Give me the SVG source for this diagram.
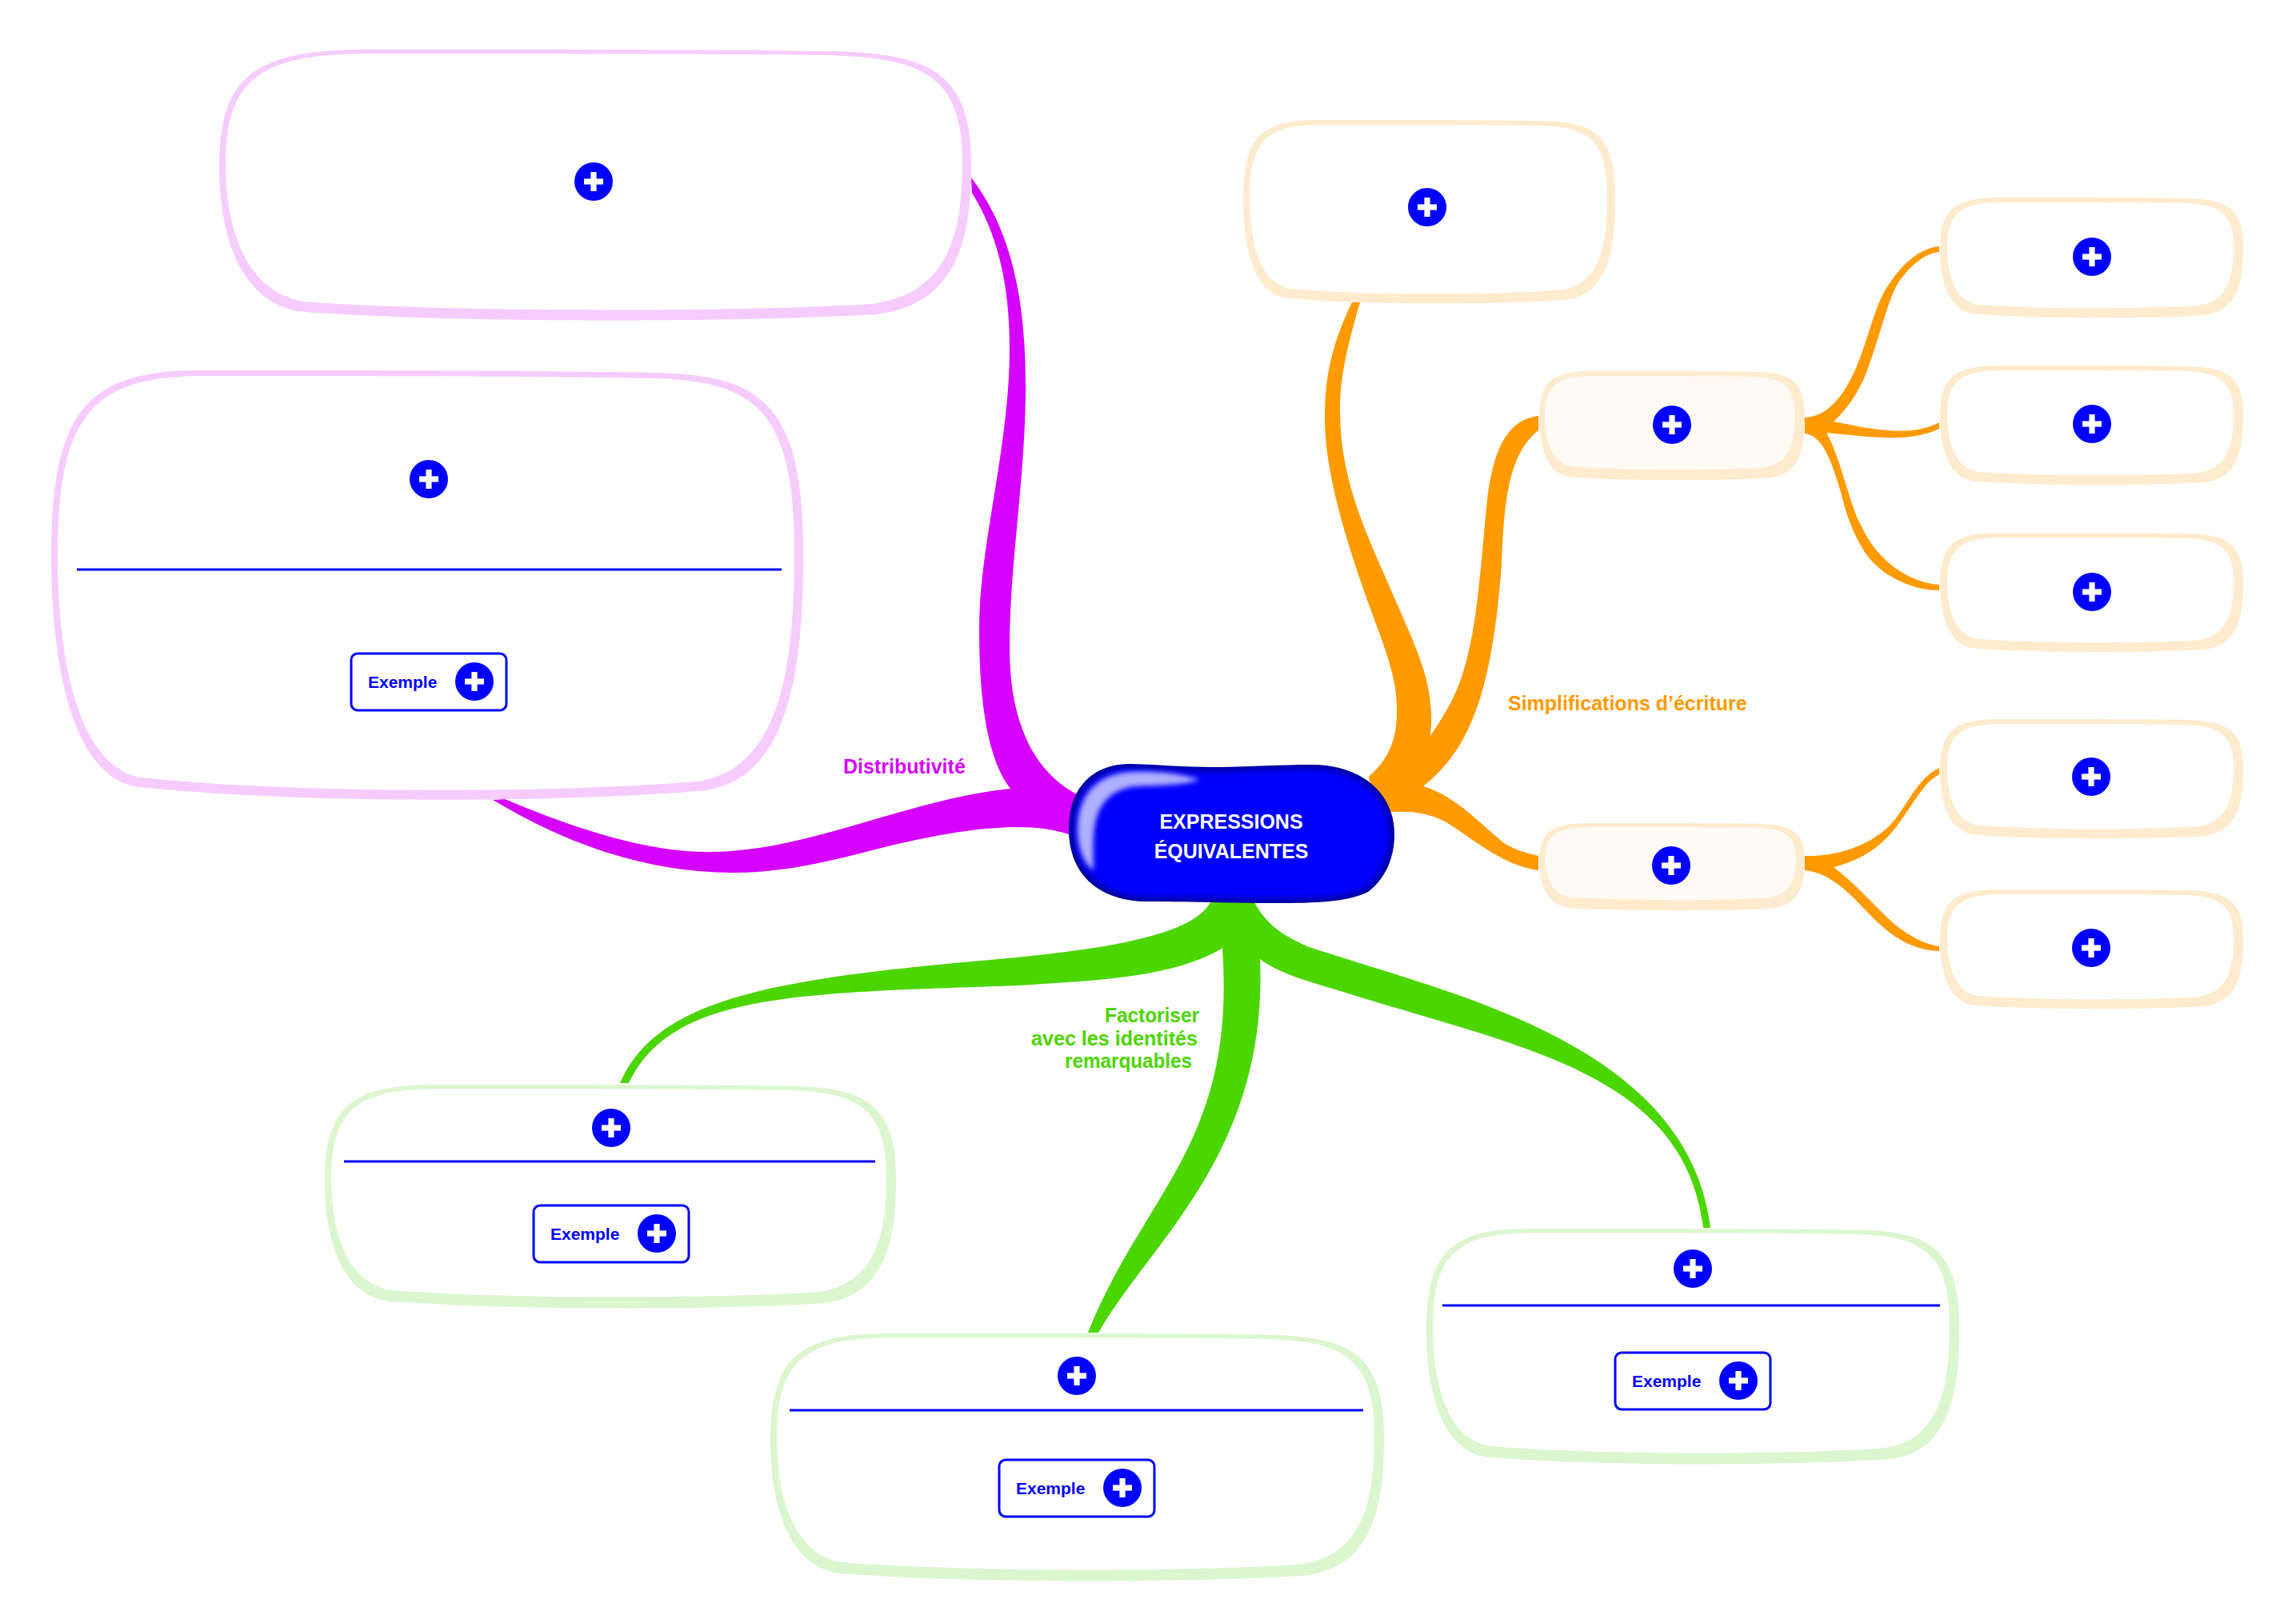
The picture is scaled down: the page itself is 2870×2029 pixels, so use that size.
<svg xmlns="http://www.w3.org/2000/svg" width="2870" height="2029" viewBox="0 0 2870 2029">
<style>
.pk{fill:#f6ccff}.or{fill:#ffebcd}.gr{fill:#dcf6cf}.wh{fill:#fff}.cr{fill:#fffaf3}
.sep{stroke:#00f;stroke-width:3;fill:none}
.lb{font-family:"Liberation Sans",Arial,sans-serif;font-weight:700;font-size:25px}
.ex{font-family:"Liberation Sans",Arial,sans-serif;font-weight:700;font-size:21px;fill:#00f}
.ti{font-family:"Liberation Sans",Arial,sans-serif;font-weight:700;font-size:25px;fill:#fff;text-anchor:middle}
</style>
<defs>
<path id="u" d="M.198,0C.43,0 .66,0 .81,.006C.95,.012 1,.09 1,.43C1,.73 .975,.95 .87,.98C.67,1.01 .31,1.01 .11,.97C.03,.94 0,.7 0,.43C0,.09 .05,0 .198,0Z"/>
<g id="plus"><circle r="24" fill="#00f"/><rect x="-12" y="-3.6" width="24" height="7.2" fill="#fff"/><rect x="-3.6" y="-12" width="7.2" height="24" fill="#fff"/></g>
<g id="exemple"><rect x="0" y="0" width="194" height="71" rx="8" fill="#fff" stroke="#00f" stroke-width="3"/><text class="ex" x="21" y="43">Exemple</text><use href="#plus" x="154" y="35"/></g>
<path id="cp" d="M1413,955C1450,956 1480,959 1513,959C1560,959 1600,956 1640,956C1700,956 1743,990 1743,1043C1743,1075 1730,1100 1710,1115C1685,1128 1640,1129 1597,1129C1540,1129 1490,1127 1430,1127C1370,1125 1336,1090 1336,1037C1336,985 1365,955 1413,955Z"/>
<clipPath id="cc"><use href="#cp"/></clipPath>
<filter id="b3" x="-10%" y="-10%" width="120%" height="120%"><feGaussianBlur stdDeviation="5"/></filter>
<filter id="b2" x="-10%" y="-10%" width="120%" height="120%"><feGaussianBlur stdDeviation="3"/></filter>
</defs>
<rect width="2870" height="2029" fill="#fff"/>
<g id="connectors">
<g fill="#d500ff">
<path d="M1214,222C1250,270 1282,340 1282,482C1282,600 1262,700 1262,810C1262,900 1290,965 1350,995L1340,1040L1263,1000L1263,986C1235,950 1224,880 1224,787C1224,680 1262,560 1262,435C1262,350 1245,290 1215,241Z"/>
<path d="M631,999C740,1045 820,1065 886,1065C1010,1065 1130,1000 1263,986L1350,995L1336,1043C1290,1028 1220,1030 1090,1063C1040,1076 980,1091 917,1091C800,1091 700,1050 616,1000Z"/>
</g>
<g fill="#ff9a00">
<path d="M1690,378C1665,430 1656,470 1656,523C1656,600 1690,700 1727,799C1745,850 1746,870 1746,891C1746,925 1735,950 1711,971L1760,1010L1788,920C1795,860 1770,810 1752,768C1715,680 1675,610 1675,513C1675,470 1685,430 1700,378Z"/>
<path d="M1923,520C1880,525 1866,570 1859,625C1852,690 1848,780 1829,840C1820,870 1805,895 1788,920L1711,971L1720,1020L1779,983C1840,935 1865,860 1877,707C1880,640 1882,570 1923,538Z"/>
<path d="M1779,983C1820,995 1850,1030 1880,1054C1895,1063 1910,1067 1923,1070L1923,1088C1880,1082 1850,1055 1808,1028C1785,1015 1760,1014 1739,1015L1700,1000Z"/>
<path d="M2256,522C2290,520 2310,485 2322,455C2335,425 2345,375 2363,353C2378,330 2400,310 2424,308L2424,315C2405,317 2388,332 2373,353C2358,378 2348,430 2330,473C2320,495 2308,512 2292,527C2320,532 2385,550 2424,528L2424,536C2385,555 2330,545 2283,541C2300,570 2315,640 2326,656C2345,700 2385,728 2424,731L2424,738C2385,738 2345,715 2329,687C2310,655 2305,630 2300,612C2290,580 2280,545 2256,542Z"/>
<path d="M2256,1070C2300,1071 2345,1055 2370,1023C2390,995 2400,972 2424,960L2424,968C2405,978 2395,1000 2373,1030C2355,1055 2330,1075 2292,1084C2320,1105 2345,1135 2370,1157C2390,1172 2405,1180 2424,1183L2424,1189C2395,1188 2370,1175 2347,1153C2320,1127 2295,1092 2256,1088Z"/>
</g>
<g fill="#4cd600">
<path d="M775,1354C820,1250 960,1225 1225,1201C1380,1188 1490,1170 1513,1128L1570,1128L1527,1186C1470,1220 1380,1226 1273,1232C1000,1242 840,1240 786,1354Z"/>
<path d="M1360,1666C1430,1490 1545,1430 1528,1186L1540,1120L1575,1199C1585,1440 1440,1550 1373,1666Z"/>
<path d="M1568,1128C1585,1160 1610,1172 1634,1183C1800,1240 2110,1300 2138,1535L2129,1535C2105,1340 1900,1310 1679,1240C1640,1228 1600,1218 1575,1199L1530,1160Z"/>
</g>
</g>
<g id="n-dist-1"><use href="#u" class="pk" transform="translate(274 62) scale(940 338)"/><use href="#u" class="wh" transform="translate(282 67) scale(921 320)"/><use href="#plus" x="742" y="227"/></g>
<g id="n-dist-2"><use href="#u" class="pk" transform="translate(64 463) scale(940 536)"/><use href="#u" class="wh" transform="translate(72 470) scale(921 517)"/><use href="#plus" x="536" y="599"/><path class="sep" d="M96,712H977"/><use href="#exemple" x="439" y="817"/></g>
<g id="n-simp-top"><use href="#u" class="or" transform="translate(1554 150) scale(465 229)"/><use href="#u" class="wh" transform="translate(1562 156) scale(447 211)"/><use href="#plus" x="1784" y="259"/></g>
<g id="n-simp-a"><use href="#u" class="or" transform="translate(1924 464) scale(332 136)"/><use href="#u" class="cr" transform="translate(1931 470) scale(313 117)"/><use href="#plus" x="2090" y="531"/></g>
<g id="n-simp-b"><use href="#u" class="or" transform="translate(1924 1029) scale(332 109)"/><use href="#u" class="cr" transform="translate(1931 1034) scale(314 91)"/><use href="#plus" x="2089" y="1082"/></g>
<g id="n-simp-a1"><use href="#u" class="or" transform="translate(2425 247) scale(379 150)"/><use href="#u" class="wh" transform="translate(2434 253) scale(358 132)"/><use href="#plus" x="2615" y="321"/></g>
<g id="n-simp-a2"><use href="#u" class="or" transform="translate(2425 457) scale(379 149)"/><use href="#u" class="wh" transform="translate(2434 463) scale(358 131)"/><use href="#plus" x="2615" y="530"/></g>
<g id="n-simp-a3"><use href="#u" class="or" transform="translate(2425 666) scale(379 149)"/><use href="#u" class="wh" transform="translate(2434 672) scale(358 131)"/><use href="#plus" x="2615" y="740"/></g>
<g id="n-simp-b1"><use href="#u" class="or" transform="translate(2425 899) scale(379 149)"/><use href="#u" class="wh" transform="translate(2434 905) scale(358 131)"/><use href="#plus" x="2614" y="971"/></g>
<g id="n-simp-b2"><use href="#u" class="or" transform="translate(2425 1112) scale(379 149)"/><use href="#u" class="wh" transform="translate(2434 1118) scale(358 131)"/><use href="#plus" x="2614" y="1185"/></g>
<g id="n-fact-a"><use href="#u" class="gr" transform="translate(406 1356) scale(714 279)"/><use href="#u" class="wh" transform="translate(414 1361) scale(694 260)"/><use href="#plus" x="764" y="1410"/><path class="sep" d="M430,1452H1094"/><use href="#exemple" x="667" y="1507"/></g>
<g id="n-fact-b"><use href="#u" class="gr" transform="translate(963 1667) scale(767 309)"/><use href="#u" class="wh" transform="translate(971 1672) scale(747 290)"/><use href="#plus" x="1346" y="1720"/><path class="sep" d="M987,1763H1704"/><use href="#exemple" x="1249" y="1825"/></g>
<g id="n-fact-c"><use href="#u" class="gr" transform="translate(1783 1536) scale(666 294)"/><use href="#u" class="wh" transform="translate(1791 1541) scale(646 275)"/><use href="#plus" x="2116" y="1586"/><path class="sep" d="M1803,1632H2425"/><use href="#exemple" x="2019" y="1691"/></g>
<g id="n-center">
<use href="#cp" fill="#00008c"/>
<g clip-path="url(#cc)">
<use href="#cp" fill="#00f" filter="url(#b3)" transform="translate(38.5 52) scale(.975 .95)"/>
<path d="M1500,975C1470,965 1440,964 1413,965C1370,968 1347,995 1347,1037C1347,1060 1355,1080 1367,1088C1366,1060 1366,1040 1370,1025C1376,1000 1395,985 1420,983C1450,982 1480,981 1500,975Z" fill="#b0b0ff" filter="url(#b2)"/>
</g>
<text class="ti" x="1539" y="1036">EXPRESSIONS</text>
<text class="ti" x="1539" y="1073">ÉQUIVALENTES</text>
</g>
<text class="lb" fill="#d500ff" x="1054" y="967">Distributivité</text>
<text class="lb" fill="#ff9a00" x="1885" y="888">Simplifications d’écriture</text>
<text class="lb" fill="#4cd600" x="1381" y="1278" textLength="118" lengthAdjust="spacingAndGlyphs">Factoriser</text>
<text class="lb" fill="#4cd600" x="1289" y="1307" textLength="208" lengthAdjust="spacingAndGlyphs">avec les identités</text>
<text class="lb" fill="#4cd600" x="1331" y="1335" textLength="159" lengthAdjust="spacingAndGlyphs">remarquables</text>
</svg>
